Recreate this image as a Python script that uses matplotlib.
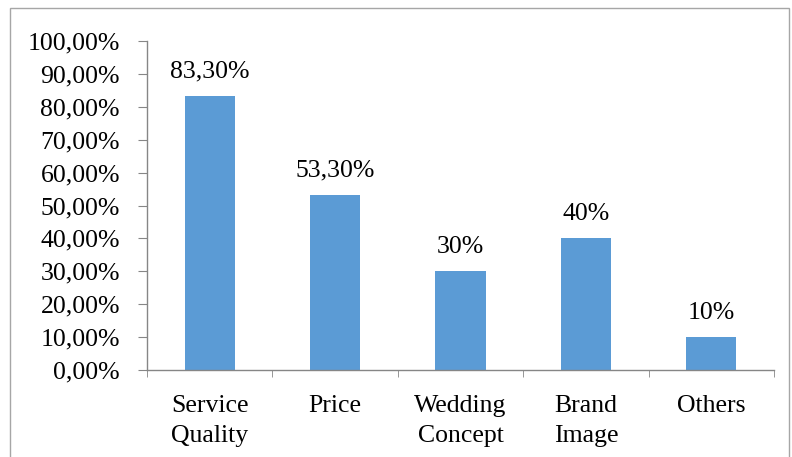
import matplotlib
matplotlib.use("Agg")
import matplotlib.pyplot as plt
from matplotlib.patches import Rectangle

categories = ["Service\nQuality", "Price", "Wedding\nConcept", "Brand\nImage", "Others"]
values = [83.3, 53.3, 30, 40, 10]
labels = ["83,30%", "53,30%", "30%", "40%", "10%"]
yticks = [0, 10, 20, 30, 40, 50, 60, 70, 80, 90, 100]
ytick_labels = ["0,00%", "10,00%", "20,00%", "30,00%", "40,00%", "50,00%",
                "60,00%", "70,00%", "80,00%", "90,00%", "100,00%"]

plt.rcParams['font.family'] = ['Liberation Serif', 'DejaVu Serif']
FS = 18.5
W, H = 792, 457
fig = plt.figure(figsize=(W/100, H/100), dpi=100)
fig.patches.append(Rectangle((10/W, -0.1), (789-10)/W, (H-8)/H + 0.1, transform=fig.transFigure,
                             fill=False, edgecolor='#a6a6a6', linewidth=1.0))

ax = fig.add_axes([147/W, 1-370/H, (774-147)/W, (370-41)/H])
x = list(range(len(categories)))
ax.bar(x, values, width=0.4, color='#5B9BD5')
for xi, v, lab in zip(x, values, labels):
    ax.text(xi, v + 5.5, lab, ha='center', va='baseline', fontsize=FS)

ax.set_xlim(-0.5, len(categories) - 0.5)
ax.set_ylim(0, 100)
ax.set_yticks(yticks)
ax.set_yticklabels(ytick_labels, fontsize=FS)
ax.set_xticks(x)
ax.set_xticklabels(categories, fontsize=FS, linespacing=1.45)
ax.set_xticks([i - 0.5 for i in range(len(categories) + 1)], minor=True)
ax.tick_params(axis='x', which='major', length=0, pad=18)
ax.tick_params(axis='x', which='minor', length=5, color='#868686', direction='out')
ax.tick_params(axis='y', length=6.5, color='#868686', direction='out', pad=13)
for s in ['top', 'right']:
    ax.spines[s].set_visible(False)
for s in ['left', 'bottom']:
    ax.spines[s].set_color('#868686')
ax.spines['left'].set_linewidth(1.0)
ax.spines['bottom'].set_linewidth(1.0)

fig.savefig("out.png", dpi=100)
